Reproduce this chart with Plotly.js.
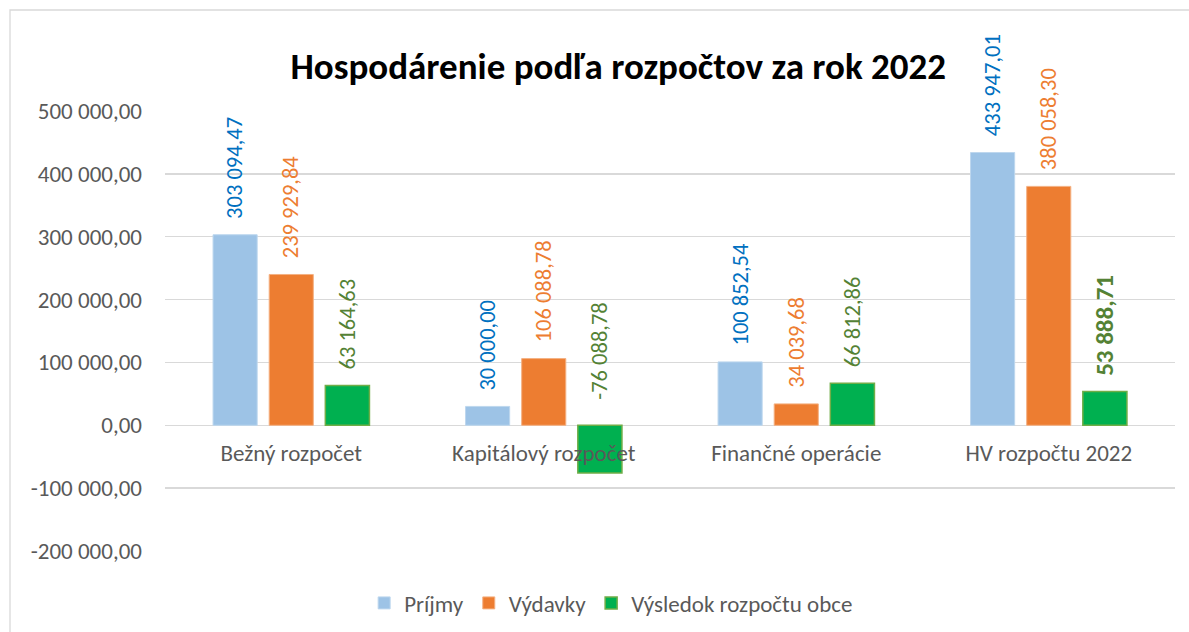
<!DOCTYPE html>
<html>
<head>
<meta charset="utf-8">
<script src="https://cdn.plot.ly/plotly-3.0.1.min.js"></script>
<style>
html,body{margin:0;padding:0;background:#fff;}
#chart{width:1189px;height:632px;}
</style>
</head>
<body>
<div id="chart"></div>
<script>
const categories = ["Bežný rozpočet", "Kapitálový rozpočet", "Finančné operácie", "HV rozpočtu 2022"];
const seriesNames = ["Príjmy", "Výdavky", "Výsledok rozpočtu obce"];
const prijmy = [303094.47, 30000.00, 100852.54, 433947.01];
const vydavky = [239929.84, 106088.78, 34039.68, 380058.30];
const vysledok = [63164.63, -76088.78, 66812.86, 53888.71];
const yTickVals = [-200000, -100000, 0, 100000, 200000, 300000, 400000, 500000];
const yRange = [-200000, 500000];

const FONT = "Carlito, Lato, 'Open Sans', sans-serif";
const fillColors = ["#9DC3E6", "#ED7D31", "#00B050"];
const lineColors = ["#BDD7EE", "#F4B183", "#70AD47"];
const labelColors = ["#0070C0", "#ED7D31", "#548235"];

function fmt(v){
  const neg = v < 0;
  const parts = Math.abs(v).toFixed(2).split(".");
  const intPart = parts[0].replace(/\B(?=(\d{3})+(?!\d))/g, " ");
  return (neg ? "-" : "") + intPart + "," + parts[1];
}

const allSeries = [prijmy, vydavky, vysledok];
const traces = allSeries.map((vals, i) => ({
  type: "bar",
  name: seriesNames[i],
  x: categories,
  y: vals,
  marker: {color: fillColors[i], line: {color: lineColors[i], width: i === 2 ? 1.5 : 1}},
  hoverinfo: "skip"
}));

// layout geometry
const W = 1189, H = 632;
const margin = {l: 165, r: 14, t: 111, b: 81};
const bargap = 0.333, bargroupgap = 0.214;
const plotW = W - margin.l - margin.r;
const plotH = H - margin.t - margin.b;
const catW = plotW / categories.length;
const slot = catW * (1 - bargap) / 3;
const zeroFrac = (0 - yRange[0]) / (yRange[1] - yRange[0]);

const annotations = [];
allSeries.forEach((vals, i) => {
  vals.forEach((v, j) => {
    const isLast = (i === 2 && j === categories.length - 1);
    annotations.push({
      x: categories[j],
      y: Math.max(v, 0),
      xref: "x", yref: "y",
      text: isLast ? "<b>" + fmt(v) + "</b>" : fmt(v),
      showarrow: false,
      textangle: -90,
      xanchor: "center",
      yanchor: "bottom",
      xshift: (i - 1) * slot,
      yshift: v < 0 ? 24 : 14,
      font: {family: FONT, size: isLast ? 25 : 22.5, color: labelColors[i]}
    });
  });
});

const layout = {
  width: W, height: H,
  margin: margin,
  paper_bgcolor: "#ffffff",
  plot_bgcolor: "#ffffff",
  barmode: "group",
  bargap: bargap,
  bargroupgap: bargroupgap,
  title: {
    text: "<b>Hospodárenie podľa rozpočtov za rok 2022</b>",
    font: {family: FONT, size: 37, color: "#000000"},
    x: 0.52, xref: "container", xanchor: "center",
    y: 0.895, yref: "container", yanchor: "middle"
  },
  xaxis: {
    type: "category",
    showgrid: false,
    zeroline: false,
    showline: false,
    ticks: "",
    anchor: "free",
    position: zeroFrac,
    ticklabelstandoff: 12,
    tickfont: {family: FONT, size: 23, color: "#595959"},
    fixedrange: true
  },
  yaxis: {
    range: yRange,
    tickmode: "array",
    tickvals: yTickVals,
    ticktext: yTickVals.map(fmt),
    showgrid: true,
    gridcolor: "#D9D9D9",
    gridwidth: 1.3,
    zeroline: true,
    zerolinecolor: "#D9D9D9",
    zerolinewidth: 1.3,
    ticks: "",
    ticklabelstandoff: 22,
    tickfont: {family: FONT, size: 23, color: "#595959"},
    fixedrange: true
  },
  showlegend: true,
  legend: {
    orientation: "h",
    xref: "container", yref: "container",
    x: 0.514, xanchor: "center",
    y: 0.046, yanchor: "middle",
    bgcolor: "rgba(0,0,0,0)",
    font: {family: FONT, size: 23, color: "#595959"},
    traceorder: "normal"
  },
  annotations: annotations,
  shapes: [{
    type: "rect", xref: "paper", yref: "paper",
    x0: (10 - margin.l) / plotW, x1: (W + 10 - margin.l) / plotW,
    y0: -(H + 10 - margin.t - plotH) / plotH,
    y1: (plotH + margin.t - 10) / plotH,
    line: {color: "#D9D9D9", width: 1.3},
    fillcolor: "rgba(0,0,0,0)",
    layer: "below"
  }]
};

Plotly.newPlot("chart", traces, layout, {displayModeBar: false, staticPlot: true});
</script>
</body>
</html>
